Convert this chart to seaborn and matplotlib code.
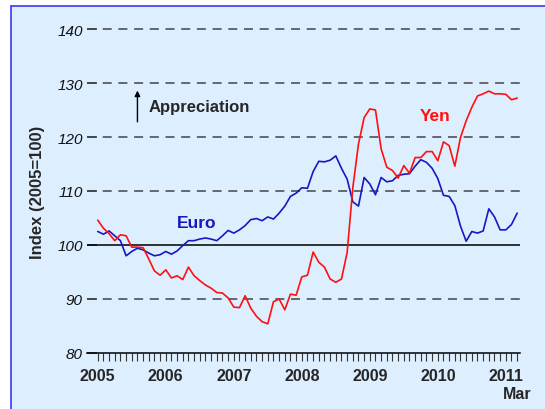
import matplotlib
matplotlib.use("Agg")
import matplotlib.pyplot as plt
import seaborn as sns
import pandas as pd
import numpy as np
from matplotlib.patches import Rectangle
from matplotlib.lines import Line2D

# ---- data (monthly, Jan 2005 .. Mar 2011, index 2005=100) ----
euro = [102.5, 102.0, 102.6, 101.7, 100.8, 98.0, 98.8, 99.4, 99.1, 98.5,
        98.0, 98.2, 98.8, 98.3, 98.9, 99.9, 100.8, 100.8, 101.1, 101.3,
        101.1, 100.8, 101.7, 102.7, 102.2, 102.8, 103.6, 104.7, 104.9, 104.5,
        105.2, 104.8, 105.9, 107.2, 109.0, 109.6, 110.6, 110.5, 113.6, 115.5,
        115.4, 115.7, 116.5, 114.2, 112.2, 108.0, 107.2, 112.5, 111.3, 109.3,
        112.5, 111.7, 111.9, 112.9, 113.1, 113.2, 114.6, 115.8, 115.3, 114.2,
        112.3, 109.2, 109.0, 107.3, 103.5, 100.7, 102.5, 102.2, 102.6, 106.7,
        105.2, 102.8, 102.8, 103.8, 105.9]
yen = [104.6, 103.1, 102.1, 100.8, 101.9, 101.7, 99.6, 99.6, 99.5, 97.4,
       95.2, 94.4, 95.4, 93.9, 94.3, 93.6, 95.9, 94.3, 93.4, 92.6,
       92.0, 91.2, 91.1, 90.2, 88.5, 88.4, 90.6, 88.3, 86.8, 85.8,
       85.4, 89.5, 90.0, 88.0, 90.9, 90.7, 94.1, 94.4, 98.7, 96.8,
       95.9, 93.7, 93.1, 93.7, 98.6, 110.6, 118.7, 123.6, 125.2, 125.0,
       117.8, 114.4, 113.8, 112.4, 114.7, 113.3, 116.2, 116.2, 117.3, 117.3,
       115.6, 119.1, 118.4, 114.6, 119.9, 123.0, 125.5, 127.6, 128.0, 128.5,
       128.0, 128.0, 127.9, 126.9, 127.2]
years = ["2005", "2006", "2007", "2008", "2009", "2010", "2011"]
y_ticks = [80, 90, 100, 110, 120, 130, 140]

months = np.arange(len(euro))
df = pd.DataFrame({"month": np.concatenate([months, months]),
                   "value": euro + yen,
                   "series": ["Euro"] * len(euro) + ["Yen"] * len(yen)})

sns.set_style("white")
plt.rcParams["font.family"] = ["Liberation Sans", "DejaVu Sans"]
plt.rcParams["lines.scale_dashes"] = False

EURO_C = "#1818C0"
YEN_C = "#FF1010"
PANEL = "#DDEEFF"

fig = plt.figure(figsize=(5.45, 4.10), dpi=100, facecolor="white")
# panel background with blue border (left & top)
x0, y0 = 11 / 545, 1 - 7 / 410
fig.patches.append(Rectangle((x0, -0.01), 1.05, y0 + 0.01, transform=fig.transFigure,
                             facecolor=PANEL, edgecolor="none", zorder=-10))
fig.lines.append(Line2D([x0, x0], [-0.01, y0], transform=fig.transFigure,
                        color="#3A3AF0", lw=1.2, zorder=-5))
fig.lines.append(Line2D([x0, 1.01], [y0, y0], transform=fig.transFigure,
                        color="#3A3AF0", lw=1.2, zorder=-5))

ax = fig.add_axes([87 / 545, 56 / 410, 433 / 545, 324 / 410])
ax.set_zorder(5)
ax.set_facecolor("none")
ax.patch.set_alpha(0)

# dashed grid lines
for v in [90, 110, 120, 130, 140]:
    ax.axhline(v, color="#444444", lw=1.1, linestyle=(0, (6.5, 4.8)), clip_on=False, zorder=1)
ax.axhline(100, color="black", lw=1.1, zorder=2)

sns.lineplot(data=df, x="month", y="value", hue="series",
             palette={"Euro": EURO_C, "Yen": YEN_C}, lw=1.2, legend=False, ax=ax, zorder=3)

ax.set_xlim(-1.9, 74.5)
ax.set_ylim(80, 140)

for s in ["left", "right", "top"]:
    ax.spines[s].set_visible(False)
ax.spines["bottom"].set_color("black")
ax.spines["bottom"].set_linewidth(1.1)

ax.set_yticks(y_ticks)
ax.set_yticklabels([str(v) for v in y_ticks], fontstyle="italic", fontsize=11, color="#111111")
ax.tick_params(axis="y", direction="in", length=7.5, width=1.1, color="#333333", pad=3, left=True)

ax.set_xticks(np.arange(0, len(euro)), minor=True)
ax.set_xticks(np.arange(0, 12 * len(years), 12))
ax.set_xticklabels(years, fontweight="bold", fontsize=11.5)
ax.tick_params(axis="x", which="both", direction="out", length=5.5, width=0.8,
               color="#333333", pad=5.5, bottom=True)

ax.set_xlabel("")
ax.set_ylabel("Index (2005=100)", fontweight="bold", fontsize=12)
ax.yaxis.set_label_coords(-0.098, 0.5)

ax.annotate("Mar", xy=(74, 80), xycoords="data", xytext=(0, -29.5), textcoords="offset points",
            ha="center", va="center", fontweight="bold", fontsize=11.5, annotation_clip=False)

ax.text(8.9, 125.7, "Appreciation", fontweight="bold", fontsize=12, va="center", ha="left")
ax.annotate("", xy=(7.0, 128.6), xytext=(7.0, 122.8),
            arrowprops=dict(arrowstyle="-|>", color="black", lw=1.0,
                            mutation_scale=8, shrinkA=0, shrinkB=0))
ax.text(56.8, 124.0, "Yen", color=YEN_C, fontweight="bold", fontsize=12.5, va="center", ha="left")
ax.text(14.0, 104.1, "Euro", color=EURO_C, fontweight="bold", fontsize=12.5, va="center", ha="left")

fig.savefig("out.png", dpi=100, facecolor="white")
